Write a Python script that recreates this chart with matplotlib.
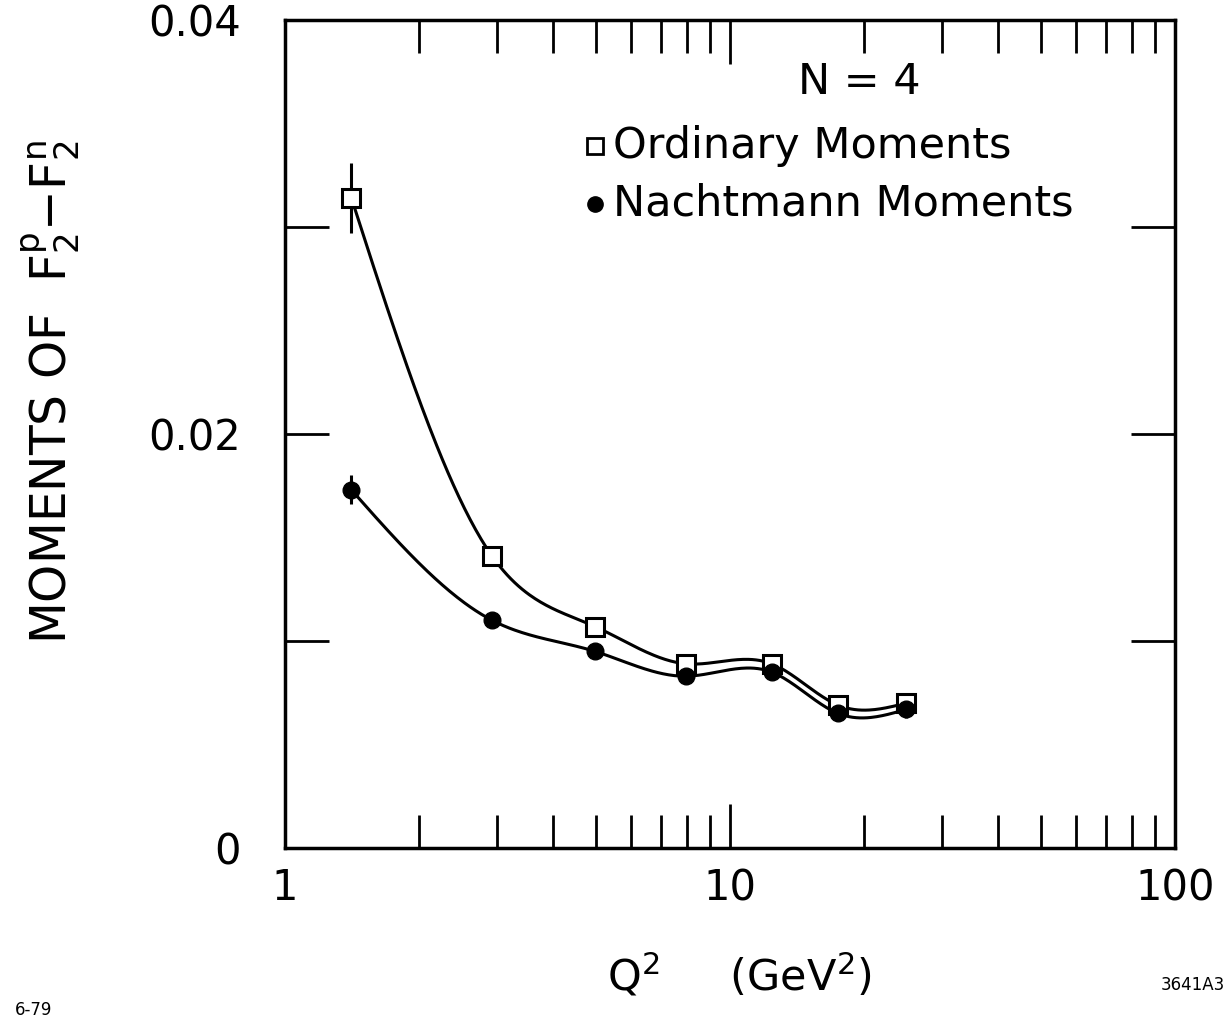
import numpy as np
import matplotlib.pyplot as plt
from matplotlib.ticker import FixedLocator, NullFormatter

# Data
q2 = [1.41, 2.92, 4.97, 7.96, 12.4, 17.5, 24.9]
ordinary = [0.0314, 0.0141, 0.0107, 0.0089, 0.0089, 0.0069, 0.0070]
ordinary_err = [0.0017, 0.0004, 0.0003, 0.0003, 0.0003, 0.0003, 0.0004]
nachtmann = [0.0173, 0.0110, 0.0095, 0.0083, 0.0085, 0.0065, 0.0067]
nachtmann_err = [0.0007, 0.0002, 0.0002, 0.0002, 0.0002, 0.0003, 0.0004]

y_ticks = [0.0, 0.01, 0.02, 0.03, 0.04]
y_labels = ['0', '', '0.02', '', '0.04']


def natural_spline(x, y, xs):
    # natural cubic spline through the points, evaluated at xs
    x = np.asarray(x, float)
    y = np.asarray(y, float)
    n = len(x)
    h = np.diff(x)
    A = np.zeros((n, n))
    b = np.zeros(n)
    A[0, 0] = A[-1, -1] = 1
    for i in range(1, n - 1):
        A[i, i - 1] = h[i - 1]
        A[i, i] = 2 * (h[i - 1] + h[i])
        A[i, i + 1] = h[i]
        b[i] = 3 * ((y[i + 1] - y[i]) / h[i] - (y[i] - y[i - 1]) / h[i - 1])
    c = np.linalg.solve(A, b)
    out = np.empty_like(xs)
    for k, t in enumerate(xs):
        i = min(max(np.searchsorted(x, t) - 1, 0), n - 2)
        dx = t - x[i]
        bi = (y[i + 1] - y[i]) / h[i] - h[i] * (2 * c[i] + c[i + 1]) / 3
        di = (c[i + 1] - c[i]) / (3 * h[i])
        out[k] = y[i] + bi * dx + c[i] * dx ** 2 + di * dx ** 3
    return out


plt.rcParams['font.family'] = 'DejaVu Sans'
fig = plt.figure(figsize=(12.32, 10.19), dpi=100)
ax = fig.add_axes([285 / 1232, 1 - 848 / 1019, 890 / 1232, 828 / 1019])

lx = np.log10(q2)
xs = np.linspace(lx[0], lx[-1], 300)
ax.plot(10 ** xs, natural_spline(lx, ordinary, xs), color='black', lw=2.2)
ax.plot(10 ** xs, natural_spline(lx, nachtmann, xs), color='black', lw=2.2)

ax.errorbar(q2, ordinary, yerr=ordinary_err, fmt='s', ms=13, mfc='white',
            mec='black', mew=2.2, ecolor='black', elinewidth=2.2, capsize=0, zorder=3)
ax.errorbar(q2, nachtmann, yerr=nachtmann_err, fmt='o', ms=12, mfc='black',
            mec='black', ecolor='black', elinewidth=2.2, capsize=0, zorder=3)

ax.set_xscale('log')
ax.set_xlim(1, 100)
ax.set_ylim(0, 0.04)
ax.set_yticks(y_ticks)
ax.set_yticklabels(y_labels)
ax.xaxis.set_major_locator(FixedLocator([1, 10, 100]))
ax.set_xticklabels(['1', '10', '100'])
ax.xaxis.set_minor_locator(FixedLocator([k * 10 ** d for d in (0, 1) for k in range(2, 10)]))
ax.xaxis.set_minor_formatter(NullFormatter())

ax.tick_params(axis='both', which='major', direction='in', top=True, right=True,
               length=32, width=2, labelsize=30)
ax.tick_params(axis='y', pad=32)
ax.tick_params(axis='x', pad=14)
ax.tick_params(axis='x', which='minor', direction='in', top=True, length=24, width=2)
for s in ax.spines.values():
    s.set_linewidth(2.5)

ax.set_ylabel(r'MOMENTS OF  F$_2^{\rm p}$$-$F$_2^{\rm n}$', fontsize=35)
ax.yaxis.set_label_coords(-0.228, 0.55)
ax.set_xlabel(r'Q$^2$     (GeV$^2$)', fontsize=31)
ax.xaxis.set_label_coords(0.51, -0.125)

# legend drawn by hand to follow the original layout
ax.text(0.645, 0.925, 'N = 4', transform=ax.transAxes, fontsize=31, ha='center', va='center')
ax.plot([0.348], [0.848], 's', transform=ax.transAxes, ms=11, mfc='white', mec='black', mew=2)
ax.plot([0.348], [0.778], 'o', transform=ax.transAxes, ms=11, color='black')
ax.text(0.368, 0.848, 'Ordinary Moments', transform=ax.transAxes, fontsize=31, va='center')
ax.text(0.368, 0.778, 'Nachtmann Moments', transform=ax.transAxes, fontsize=31, va='center')

fig.text(15 / 1232, 1 - 1010 / 1019, '6-79', fontsize=12, va='center')
fig.text(1225 / 1232, 1 - 985 / 1019, '3641A3', fontsize=12, va='center', ha='right')

fig.savefig('out.png', dpi=100)
